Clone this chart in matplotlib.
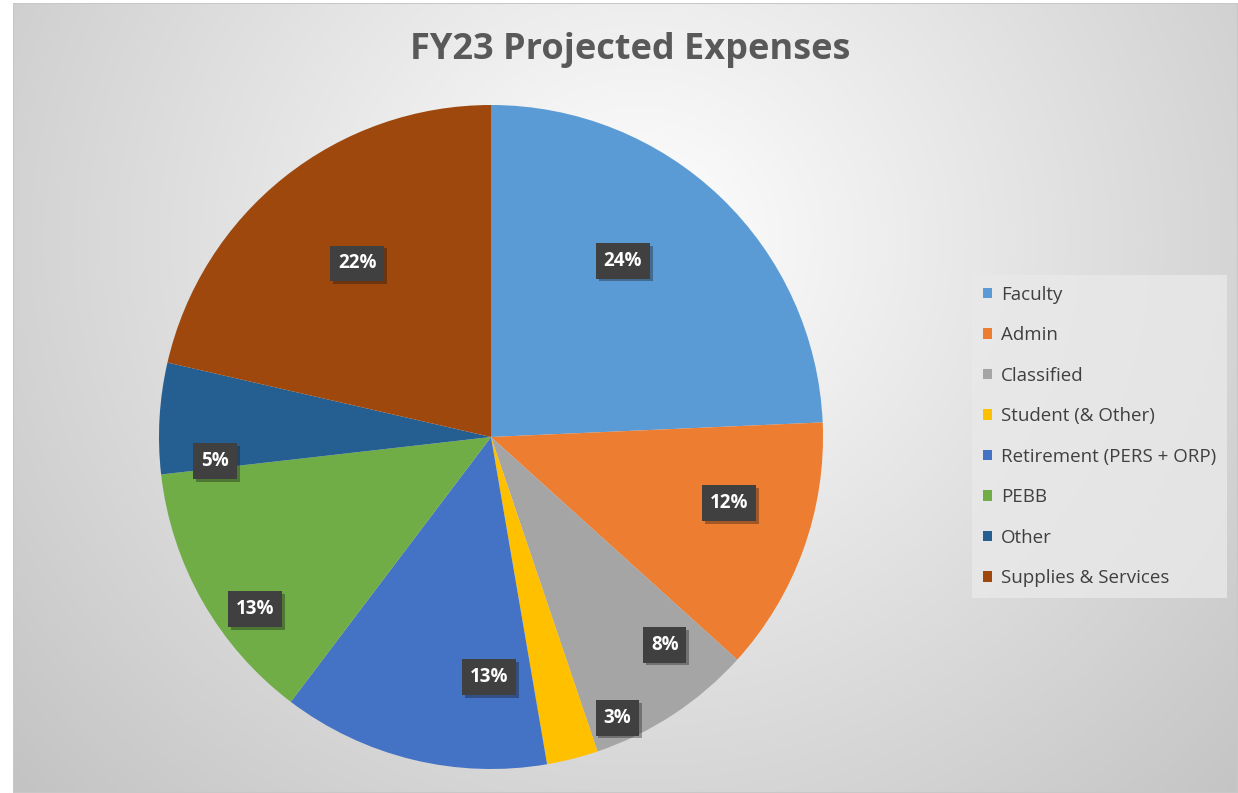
"""FY23 projected expenses pie chart."""
import numpy as np
import matplotlib
matplotlib.use("Agg")
import matplotlib.pyplot as plt
from matplotlib.patches import Rectangle, Patch
import matplotlib.patheffects as pe

categories = ["Faculty", "Admin", "Classified", "Student (& Other)",
              "Retirement (PERS + ORP)", "PEBB", "Other", "Supplies & Services"]
shares = [24.3, 12.4, 8.1, 2.5, 13.0, 12.9, 5.4, 21.4]
# percentages printed on the slices
pct_labels = ["24%", "12%", "8%", "3%", "13%", "13%", "5%", "22%"]
colors = ["#5B9BD5", "#ED7D31", "#A5A5A5", "#FFC000",
          "#4472C4", "#70AD47", "#255E91", "#9E480E"]

# label placement tweaks (radius fraction, angle shift in degrees), mimicking Excel best fit
label_r = [0.663, 0.744, 0.816, 0.927, 0.723, 0.88, 0.834, 0.66]
label_shift = [6.9, 4.3, 6.6, 10.0, 13.2, 6.4, 8.2, -0.9]

W, H = 1238, 793
fig = plt.figure(figsize=(W / 100, H / 100), dpi=100)
fig.patch.set_facecolor("white")

# chart area with radial gradient background
x0, y0 = 13, 3
bg = fig.add_axes([x0 / W, 0, 1 - x0 / W, 1 - y0 / H])
bg.set_axis_off()
yy, xx = np.mgrid[y0:H, x0:W]
d = np.sqrt((xx - 640) ** 2 + ((yy - 240) / 0.95) ** 2)
v = np.clip(255 - 57 * d / 808, 190, 255) / 255
bg.imshow(np.dstack([v, v, v]), aspect="auto", extent=[0, 1, 0, 1])
bg.add_patch(Rectangle((0, 0), 1, 1, transform=bg.transAxes, fill=False,
                       edgecolor="#c8c8c8", lw=1.5))

# pie axes
cx, cy, R = 491, 437, 332
ax = fig.add_axes([(cx - R) / W, (H - cy - R) / H, 2 * R / W, 2 * R / H])
ax.set_axis_off()
wedges, _ = ax.pie(shares, colors=colors, startangle=90, counterclock=False,
                   radius=1.0, wedgeprops=dict(linewidth=0))
ax.set_xlim(-1, 1)
ax.set_ylim(-1, 1)

for w, lab, r, sh in zip(wedges, pct_labels, label_r, label_shift):
    mid = np.deg2rad((w.theta1 + w.theta2) / 2 + sh)
    ax.text(r * np.cos(mid), r * np.sin(mid), lab, ha="center", va="center",
            color="white", fontsize=13.5, fontweight="bold", family="Open Sans",
            bbox=dict(boxstyle="square,pad=0.42", facecolor="#404040",
                      edgecolor="none",
                      path_effects=[pe.withSimplePatchShadow(offset=(2, -2),
                                                             alpha=0.35)]))

fig.text(630 / W, 1 - 50 / H, "FY23 Projected Expenses", ha="center", va="center",
         fontsize=26, fontweight="bold", color="#595959", family="Open Sans")

handles = [Patch(facecolor=c, edgecolor="none") for c in colors]
leg = fig.legend(handles, categories, loc="upper left",
                 bbox_to_anchor=(972 / W, 1 - 275 / H), borderaxespad=0,
                 frameon=True, fancybox=False, handlelength=0.48,
                 handleheight=0.48, handletextpad=0.5, labelspacing=1.2,
                 borderpad=0.58, prop=dict(family="Open Sans", size=13.5),
                 labelcolor="#404040")
leg.get_frame().set_facecolor("#e9e9e9")
leg.get_frame().set_edgecolor("none")
leg.get_frame().set_alpha(0.8)

fig.savefig("out.png", dpi=100)
